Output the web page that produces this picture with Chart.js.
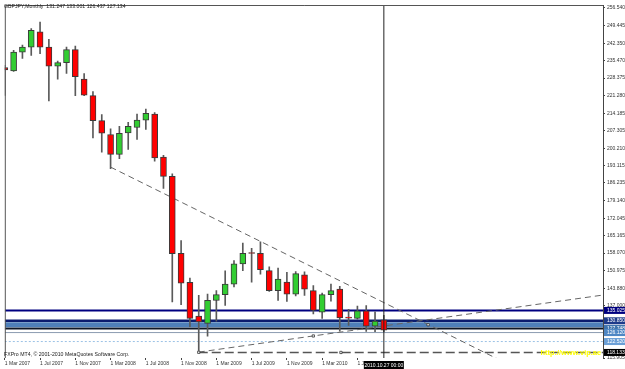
<!DOCTYPE html>
<html><head><meta charset="utf-8">
<script src="https://cdn.jsdelivr.net/npm/chart.js@4.4.1/dist/chart.umd.min.js"></script>
<style>html,body{margin:0;padding:0;background:#fff;}#wrap{width:625px;height:369px;}</style>
</head><body><div id="wrap"><canvas id="c" width="625" height="369"></canvas></div>
<script>
// ---- data (GBPJPY monthly, Mar 2007 .. Oct 2010) ----
const months = ['Mar 2007','Apr 2007','May 2007','Jun 2007','Jul 2007','Aug 2007','Sep 2007','Oct 2007','Nov 2007','Dec 2007',
 'Jan 2008','Feb 2008','Mar 2008','Apr 2008','May 2008','Jun 2008','Jul 2008','Aug 2008','Sep 2008','Oct 2008','Nov 2008','Dec 2008',
 'Jan 2009','Feb 2009','Mar 2009','Apr 2009','May 2009','Jun 2009','Jul 2009','Aug 2009','Sep 2009','Oct 2009','Nov 2009','Dec 2009',
 'Jan 2010','Feb 2010','Mar 2010','Apr 2010','May 2010','Jun 2010','Jul 2010','Aug 2010','Sep 2010','Oct 2010'];
const opens  = [232.6,231.2,238.8,240.8,247.0,240.8,233.2,234.6,239.8,228.0, 221.3,211.3,205.7,197.7,206.3,208.5,211.5,213.9,196.6,188.9,158.0,146.3,
 132.7,129.8,139.0,141.4,145.6,153.7,158.2,158.0,151.0,143.0,146.4,141.6, 149.3,143.0,134.3,141.4,143.6,132.2,131.8,134.9,128.7,131.247];
const highs  = [233.5,239.5,241.6,248.3,250.9,243.9,235.2,240.8,241.2,230.2, 222.9,213.7,208.0,209.0,210.6,213.9,215.9,214.5,197.3,189.9,163.1,148.0,
 141.1,141.6,143.0,150.9,155.0,162.1,160.0,162.6,152.5,152.0,150.3,150.6, 150.5,145.0,142.0,145.6,144.7,135.5,136.8,137.0,134.5,133.001];
const lows   = [221.4,231.0,236.3,237.5,238.2,219.2,227.9,230.2,221.3,221.3, 204.3,198.6,192.0,196.0,199.7,203.7,207.7,195.0,184.0,138.4,137.3,128.5,
 118.9,124.7,130.7,137.0,144.5,151.0,146.4,149.6,142.7,139.0,138.6,140.8, 141.0,133.6,131.8,138.7,126.7,129.0,131.5,126.6,126.5,126.437];
const closes = [231.7,238.8,240.8,247.6,240.8,233.2,234.6,239.8,228.9,221.5, 211.3,206.2,197.7,206.2,209.0,211.5,214.2,196.3,188.9,157.8,146.0,131.8,
 130.4,139.1,141.4,145.6,153.7,158.0,157.9,151.4,143.0,147.6,141.6,149.8, 143.6,135.0,141.4,143.0,132.0,131.9,134.9,128.7,130.7,127.134];

const xTickIdx    = [0,4,8,12,16,20,24,28,32,36,40];
const xTickLabels = ['1 Mar 2007','1 Jul 2007','1 Nov 2007','1 Mar 2008','1 Jul 2008','1 Nov 2008','1 Mar 2009','1 Jul 2009','1 Nov 2009','1 Mar 2010','1 Jul 2010'];
const yTicks = [256.540,249.445,242.350,235.470,228.375,221.280,214.185,207.305,200.210,193.115,186.235,179.140,172.045,165.165,158.070,150.975,143.880,137.000,115.905];

const hLevels = [135.025,130.850,129.250,127.748,126.120,122.520];
const hLabels = ['135.025','130.850',null,'127.748','126.120','122.520'];
const supportLevel = 118.133;
const supportStartIdx = 22;
const fallLine = [[12,192.6],[57,113.6]];
const riseLine = [[22,118.27],[67.86,141.2]];
const anchors  = [[22,118.2],[35,124.76],[48.02,129.27],[38.13,118.133]];
const crossIdx = 43;
const crossTime = '2010.10.27 00:00';
const title = 'GBPJPY,Monthly  131.247 133.001 126.437 127.134';
const footer = 'FXPro MT4, \u00A9 2001-2010 MetaQuotes Software Corp.';
const watermark = 'http://www.vip.ae';

const X_MIN = 0, X_MAX = 67.86, Y_MIN = 115.905, Y_MAX = 257.735;
const FONT = '"Liberation Sans", Arial, sans-serif';

// ---- datasets ----
const bull = opens.map((o,i)=>closes[i]>=o);
const bodies = opens.map((o,i)=>({x:i, y:[o, closes[i]]}));
const wicks = opens.map((o,i)=>({x:i, y:[lows[i], highs[i]]}));
const hStyles = [
  {c:'#000080', w:2, d:[]},
  {c:'#0b1c6e', w:2.5, d:[]},
  {c:'#4f80b9', w:5, d:[]},
  {c:'#101826', w:2, d:[]},
  {c:'#8b9bb0', w:1, d:[]},
  {c:'#9cc2e6', w:1, d:[2,2]}
];
const boxBg = ['#000080','#1d3a8a',null,'#3f74ad','#4f87c4','#6b9fd6'];

const datasets = [];
hLevels.forEach((v,k)=>{
  datasets.push({type:'line', data:[{x:X_MIN,y:v},{x:X_MAX,y:v}], borderColor:hStyles[k].c, borderWidth:hStyles[k].w,
    borderDash:hStyles[k].d, pointRadius:0, order:10});
});
datasets.push({type:'line', data:[{x:supportStartIdx,y:supportLevel},{x:X_MAX,y:supportLevel}], borderColor:'#555', borderWidth:1.4,
  borderDash:[9,4], pointRadius:0, order:9});
datasets.push({type:'line', data:fallLine.map(p=>({x:p[0],y:p[1]})), borderColor:'#666', borderWidth:1, borderDash:[6,4], pointRadius:0, order:9});
datasets.push({type:'line', data:riseLine.map(p=>({x:p[0],y:p[1]})), borderColor:'#666', borderWidth:1, borderDash:[6,4], pointRadius:0, order:9});
datasets.push({type:'scatter', data:anchors.map(p=>({x:p[0],y:p[1]})), pointStyle:'rect', pointRadius:1.6, borderColor:'#333',
  backgroundColor:'#fff', borderWidth:0.8, order:8});
datasets.push({type:'bar', data:wicks, backgroundColor:'#5a5a5a', borderWidth:0, barThickness:1, grouped:false, order:3});
datasets.push({type:'bar', data:bodies, backgroundColor:bull.map(b=>b?'#32cd32':'#ff0000'), borderColor:'#3a3a3a', borderWidth:1,
  borderSkipped:false, barThickness:6, minBarLength:1, grouped:false, order:2});
datasets.push({type:'line', data:[{x:crossIdx,y:Y_MIN},{x:crossIdx,y:Y_MAX}], borderColor:'#222', borderWidth:1, pointRadius:0, order:0});

const deco = {
  id:'deco',
  afterDraw(chart){
    const {ctx, chartArea:a, scales:{x,y}} = chart;
    ctx.save();
    // frame
    ctx.strokeStyle='#555'; ctx.lineWidth=1;
    ctx.beginPath(); ctx.moveTo(a.left+0.5,a.bottom); ctx.lineTo(a.left+0.5,a.top+0.5); ctx.lineTo(a.right,a.top+0.5); ctx.stroke();
    ctx.textBaseline='middle';
    // title
    ctx.font='5.2px '+FONT; ctx.fillStyle='#222'; ctx.textAlign='left';
    ctx.fillText(title, 4, 6.5);
    // footer
    ctx.fillText(footer, 4, 354.5);
    // watermark
    ctx.font='bold 7.4px '+FONT; ctx.fillStyle='#ffff00'; ctx.textAlign='right';
    ctx.fillText(watermark, 601, 353);
    // level boxes on right axis
    ctx.font='5px '+FONT; ctx.textAlign='left';
    const boxes = hLevels.map((v,k)=>({v, t:hLabels[k], bg:boxBg[k]})).filter(b=>b.t);
    boxes.push({v:supportLevel, t:supportLevel.toFixed(3), bg:'#000'});
    boxes.forEach(b=>{
      const py = y.getPixelForValue(b.v);
      ctx.fillStyle=b.bg; ctx.fillRect(a.right+1, py-3.5, 21, 7);
      ctx.fillStyle='#fff'; ctx.fillText(b.t, a.right+4, py+0.3);
    });
    // time box under crosshair
    const px = x.getPixelForValue(crossIdx);
    ctx.fillStyle='#000'; ctx.fillRect(px-20, 361, 40, 8);
    ctx.fillStyle='#fff'; ctx.textAlign='center'; ctx.font='5px '+FONT;
    ctx.fillText(crossTime, px, 365.2);
    ctx.restore();
  }
};

new Chart(document.getElementById('c'), {
  type:'bar',
  data:{datasets},
  options:{
    responsive:false, animation:false, events:[],
    layout:{padding:{left:1, top:2, right:0, bottom:0}},
    plugins:{legend:{display:false}, tooltip:{enabled:false}, title:{display:false}},
    scales:{
      x:{type:'linear', min:X_MIN, max:X_MAX, offset:false,
        grid:{display:true, drawOnChartArea:false, offset:false, tickLength:2, color:'#444'},
        border:{display:false},
        afterBuildTicks(s){ s.ticks = xTickIdx.map(v=>({value:v})); },
        afterFit(s){ s.height = 11; },
        ticks:{autoSkip:false, maxRotation:0, align:'start', padding:1, color:'#333', font:{size:5, family:FONT},
          callback:(v,i)=>xTickLabels[i]}
      },
      y:{type:'linear', position:'right', min:Y_MIN, max:Y_MAX,
        grid:{display:true, drawOnChartArea:false, tickLength:2, color:'#444'},
        border:{display:true, color:'#444'},
        afterBuildTicks(s){ s.ticks = yTicks.map(v=>({value:v})); },
        afterFit(s){ s.width = 22; },
        ticks:{autoSkip:false, padding:2, color:'#333', font:{size:5, family:FONT}, callback:v=>Number(v).toFixed(3)}
      }
    }
  },
  plugins:[deco]
});
</script></body></html>
